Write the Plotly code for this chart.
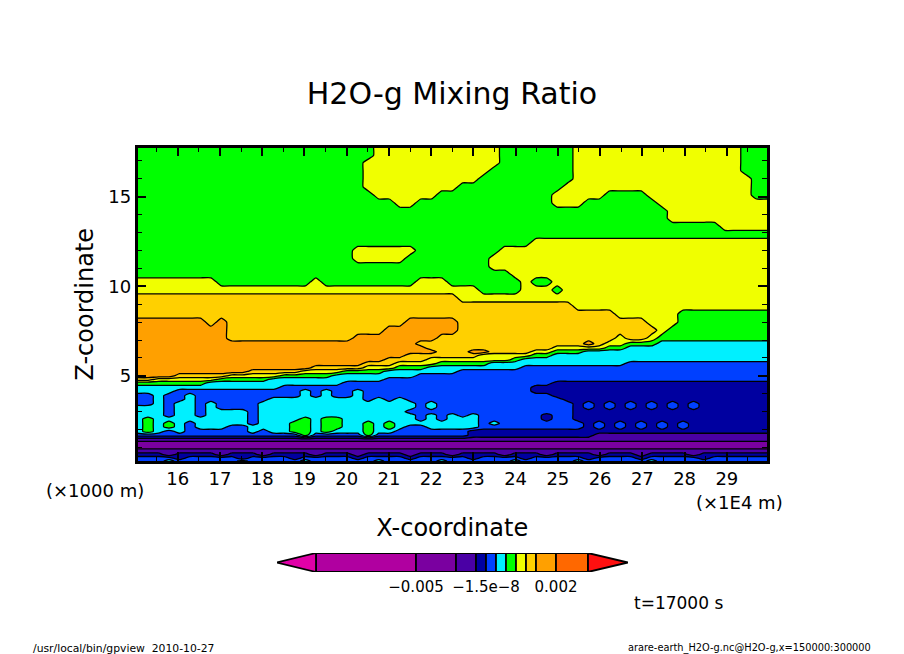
# plot.py
"""
gpview style section of the H2O-g mixing ratio (x-z plane, t=17000 s).
Cells hold the colour class read from the picture, since the shading levels
of the original are not evenly spaced and go.Contour only has even levels.
"""

import numpy as np
import plotly.graph_objects as go

PAGE_W, PAGE_H = 904, 654
FONT = "DejaVu Sans"

# colour classes, 0 = lower tip of the legend, 12 = upper tip
CLASS_COLORS = [
    "#e000a8", "#b000a0", "#7a00a0", "#4a00a5", "#0000a0", "#0040ff", "#00f0ff",
    "#00ff00", "#f0ff00", "#ffd000", "#ffa000", "#ff6800", "#ff1010",
]

# height of each row, x1000 m, top to bottom
Z_LEVELS = [
    17.75, 17.3, 16.9, 16.45, 16.0, 15.55, 15.1, 14.65, 14.2, 13.8, 13.35, 12.9,
    12.45, 12.0, 11.55, 11.1, 10.7, 10.25, 9.8, 9.35, 8.9, 8.45, 8.0, 7.55, 7.1,
    6.8, 6.55, 6.35, 6.15, 5.9, 5.7, 5.45, 5.25, 5.0, 4.8, 4.6, 4.35, 4.15, 3.9,
    3.7, 3.45, 3.25, 3.0, 2.8, 2.6, 2.35, 2.15, 1.9, 1.7, 1.45, 1.25, 1.05, 0.8,
    0.6, 0.4, 0.25,
]

# one string per row of Z_LEVELS, "class*run" from left to right (hex class)
CLASS_ROWS = [
    "7*23 8*12 7*7 8*16 7*3",
    "7*23 8*12 7*7 8*16 7*3",
    "7*22 8*13 7*7 8*16 7*3",
    "7*22 8*12 7*8 8*16 7*3",
    "7*22 8*11 7*9 8*17 7*2",
    "7*22 8*9 7*10 8*18 7*2",
    "7*23 8*6 7*11 8*5 7*4 8*10 7*2",
    "7*25 8*2 7*13 8*3 7*7 8*11",
    "7*51 8*10",
    "7*51 8*10",
    "7*56 8*5",
    "7*61",
    "7*38 8*23",
    "7*21 8*6 7*8 8*26",
    "7*21 8*5 7*8 8*27",
    "7*34 8*27",
    "7*36 8*25",
    "8*8 7*9 8*1 7*9 8*3 7*7 8*1 7*2 8*21",
    "8*33 7*4 8*3 7*1 8*20",
    "9*31 8*30",
    "9*42 8*19",
    "9*46 8*6 7*9",
    "a*7 9*1 a*1 9*17 a*5 9*18 8*3 7*9",
    "a*9 9*15 a*7 9*19 8*1 7*10",
    "a*9 9*12 a*8 9*17 8*1 9*2 8*1 7*11",
    "a*27 9*16 a*1 9*1 8*2 7*3 6*11",
    "a*28 9*12 8*5 7*2 6*14",
    "a*29 9*3 a*2 9*4 8*2 7*3 6*18",
    "a*26 9*7 8*5 7*2 6*21",
    "a*24 9*4 8*8 7*1 6*24",
    "a*22 9*3 8*4 7*5 6*13 5*14",
    "a*17 9*5 8*3 7*3 6*9 5*24",
    "a*11 9*5 8*4 7*4 6*7 5*30",
    "a*4 9*5 8*5 7*5 6*8 5*34",
    "9*2 8*6 7*5 6*11 5*37",
    "7*7 6*13 5*20 4*21",
    "6*14 5*24 4*23",
    "6*4 5*12 6*1 5*1 6*1 5*2 6*1 5*16 4*23",
    "5*2 6*1 5*2 6*1 5*10 6*1 5*1 6*1 5*2 6*1 5*18 4*21",
    "5*2 6*1 5*2 6*1 5*7 6*9 5*1 6*1 5*1 6*1 5*15 4*20",
    "5*2 6*1 5*1 6*2 5*1 6*1 5*4 6*15 5*1 6*1 5*13 4*1 5*1 4*1 5*1 4*1 5*1 4*1 5*1 4*1 5*1 4*1 5*1 4*7",
    "6*3 5*1 6*2 5*1 6*1 5*4 6*15 5*1 6*1 5*13 4*1 5*1 4*1 5*1 4*1 5*1 4*1 5*1 4*1 5*1 4*1 5*1 4*7",
    "6*3 5*1 6*2 5*1 6*4 5*1 6*14 5*16 4*19",
    "6*3 5*1 6*2 5*1 6*4 5*1 6*15 5*1 6*1 5*1 6*1 5*1 6*1 5*6 4*1 5*2 4*19",
    "6*1 7*1 6*9 5*1 6*4 7*1 6*1 7*2 6*7 5*1 6*1 5*1 6*3 5*6 4*1 5*2 4*19",
    "6*1 7*1 6*1 7*1 6*1 5*1 6*5 5*1 6*3 7*2 6*1 7*2 6*2 7*1 6*1 7*1 6*8 5*1 6*1 5*8 4*1 5*1 4*1 5*1 4*1 5*1 4*1 5*1 4*1 5*1 4*8",
    "6*1 7*1 6*1 7*1 6*1 5*1 6*3 5*2 6*4 7*2 6*1 7*2 6*2 7*1 6*1 7*1 6*1 5*2 6*5 5*10 4*1 5*1 4*1 5*1 4*1 5*1 4*1 5*1 4*1 5*1 4*8",
    "6*1 7*1 6*1 5*1 6*1 5*6 6*1 5*1 6*2 7*2 6*1 7*1 6*3 7*1 6*2 5*7 4*29",
    "5*16 7*1 5*5 7*1 5*9 4*12 3*17",
    "3*61",
    "2*61",
    "2*61",
    "3*61",
    "4*3 3*1 4*4 3*1 4*3 3*1 4*4 3*1 4*3 3*1 4*4 3*1 4*3 3*1 4*4 3*1 4*3 3*1 4*4 3*1 4*3 3*1 4*4 3*1 4*3",
    "5*4 4*1 5*5 4*1 5*4 4*1 5*5 4*1 5*4 4*1 5*5 4*1 5*4 4*1 5*5 4*1 5*4 4*1 5*5 4*1 5*4",
    "5*3 6*1 5*6 6*1 5*5 6*1 5*6 6*1 5*5 6*1 5*6 6*1 5*5 6*1 5*6 6*1 5*5",
]

# legend: edge of every box on its own scale, labels at the ticks
LEGEND_EDGES = [316, 416, 456, 476, 486, 496, 506, 516, 526, 536, 556, 588]
LEGEND_TIP_LOW = 277
LEGEND_TIP_HIGH = 628
LEGEND_TICKS = [416, 486, 556]
LEGEND_LABELS = ["−0.005", "−1.5e−8", "0.002"]


def decode_row(row, n_cols=61):
    cells = []
    for token in row.split():
        cls, _, run = token.partition("*")
        cells += [int(cls, 16)] * int(run)
    return (cells + [cells[-1]] * n_cols)[:n_cols]


def px_x(px):
    return px / PAGE_W


def px_y(px):
    return 1 - px / PAGE_H


def add_text(fig, x, y, text, size, xanchor="center"):
    fig.add_annotation(
        x=px_x(x), y=px_y(y), xref="paper", yref="paper", text=text, showarrow=False,
        xanchor=xanchor, yanchor="middle", font=dict(family=FONT, size=size, color="black"),
    )


grid = [decode_row(r) for r in CLASS_ROWS]
x_grid = np.linspace(15.05, 29.95, 61)
colorscale = [[i / 12, c] for i, c in enumerate(CLASS_COLORS)]

fig = go.Figure()
fig.add_trace(go.Contour(
    x=x_grid, y=Z_LEVELS, z=grid, zmin=0, zmax=12, colorscale=colorscale,
    autocontour=False, contours=dict(start=0.5, end=11.5, size=1, coloring="fill"),
    line=dict(color="black", width=1.3, smoothing=0.5), showscale=False, hoverinfo="skip",
))

# legend boxes
for i in range(len(LEGEND_EDGES) - 1):
    fig.add_trace(go.Bar(
        x=[LEGEND_EDGES[i + 1] - LEGEND_EDGES[i]], base=[LEGEND_EDGES[i]], y=[0.5], width=1,
        orientation="h", xaxis="x2", yaxis="y2", marker=dict(color=CLASS_COLORS[i + 1],
        line=dict(color="black", width=1.8)), showlegend=False, hoverinfo="skip",
    ))
for tip, edge, color in [(LEGEND_TIP_LOW, LEGEND_EDGES[0], CLASS_COLORS[0]),
                         (LEGEND_TIP_HIGH, LEGEND_EDGES[-1], CLASS_COLORS[-1])]:
    fig.add_trace(go.Scatter(
        x=[edge, tip, edge, edge], y=[0, 0.5, 1, 0], mode="lines", fill="toself", fillcolor=color,
        line=dict(color="black", width=1.8), xaxis="x2", yaxis="y2", showlegend=False, hoverinfo="skip",
    ))

axis_font = dict(family=FONT, size=18, color="black")
fig.update_layout(
    width=PAGE_W, height=PAGE_H, margin=dict(l=0, r=0, t=0, b=0), autosize=False,
    paper_bgcolor="white", plot_bgcolor="white", barmode="overlay", showlegend=False,
    font=dict(family=FONT, color="black"),
    title=dict(text="H2O-g Mixing Ratio", x=452 / PAGE_W, xanchor="center", y=px_y(93), yanchor="middle",
               font=dict(family=FONT, size=30, color="black")),
    xaxis=dict(
        domain=[px_x(137.5), px_x(767)], range=[15.05, 29.95], tick0=16, dtick=1, ticks="inside", ticklen=9,
        tickwidth=2, tickcolor="black", mirror="allticks", showline=True, linecolor="black", linewidth=2.5,
        showgrid=False, zeroline=False, tickfont=axis_font,
        minor=dict(ticks="inside", tick0=15.5, dtick=0.5, ticklen=5, tickwidth=1, tickcolor="black", showgrid=False),
        title=dict(text="X-coordinate", standoff=31, font=dict(family=FONT, size=24, color="black")),
    ),
    yaxis=dict(
        domain=[px_y(461), px_y(147.5)], range=[0.25, 17.75], tick0=5, dtick=5, ticks="inside", ticklen=9,
        tickwidth=2, tickcolor="black", mirror="allticks", showline=True, linecolor="black", linewidth=2.5,
        showgrid=False, zeroline=False, tickfont=axis_font,
        minor=dict(ticks="inside", tick0=1, dtick=1, ticklen=5, tickwidth=1, tickcolor="black", showgrid=False),
        title=dict(text="Z-coordinate", standoff=8, font=dict(family=FONT, size=24, color="black")),
    ),
    xaxis2=dict(
        domain=[px_x(LEGEND_TIP_LOW), px_x(LEGEND_TIP_HIGH)], range=[LEGEND_TIP_LOW, LEGEND_TIP_HIGH],
        anchor="y2", tickvals=LEGEND_TICKS, ticktext=LEGEND_LABELS, ticks="outside", ticklen=1,
        tickcolor="rgba(0,0,0,0)", showgrid=False, zeroline=False, showline=False, tickangle=0,
        tickfont=dict(family=FONT, size=15, color="black"),
    ),
    yaxis2=dict(
        domain=[px_y(572), px_y(553)], range=[0, 1], anchor="x2", visible=False, fixedrange=True,
    ),
)

add_text(fig, 95, 490, "(×1000 m)", 18)
add_text(fig, 739, 502, "(×1E4 m)", 18)
add_text(fig, 678, 603, "t=17000 s", 17)
add_text(fig, 124, 648, "/usr/local/bin/gpview  2010-10-27", 10.8)
add_text(fig, 749, 648, "arare-earth_H2O-g.nc@H2O-g,x=150000:300000", 9.8)

fig.write_html("out.html", config={"displayModeBar": False}, post_script="document.body.style.margin='0';")
